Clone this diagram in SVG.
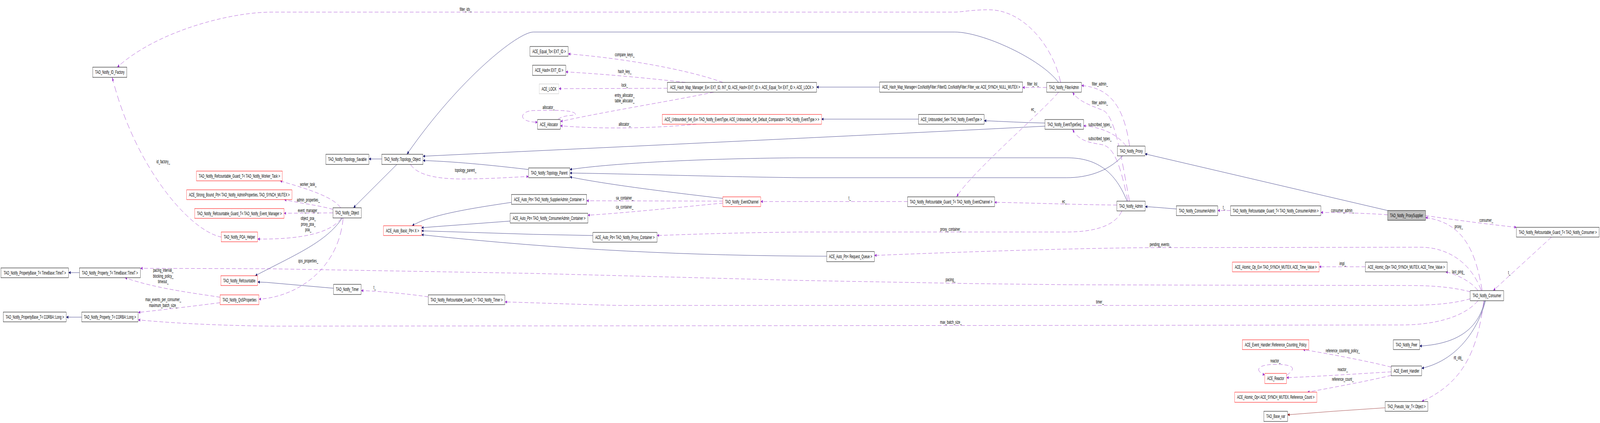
<svg xmlns="http://www.w3.org/2000/svg" width="7656" height="1083" viewBox="0 0 7656 1083" preserveAspectRatio="none">
<style>
svg{width:100vw;height:100vh;display:block}
text{font-family:"Liberation Sans",Arial,sans-serif;font-size:13.33px;fill:#000}
.node rect{fill:#fff;stroke:#000;stroke-width:1}
.node.r rect{stroke:#ff0000}
.node.g rect{stroke:#bfbfbf}
.node.sel rect{fill:#bfbfbf}
.node text{text-anchor:middle}
.lbl{text-anchor:middle}
.edges path{fill:none;stroke-width:1}
.inh{stroke:#191970;marker-end:url(#an)}
.use{stroke:#9a32cd;stroke-dasharray:18,10;marker-end:url(#ap)}
.prot{stroke:#8b1a1a;marker-end:url(#am)}
</style>
<defs>
<marker id="an" markerWidth="10" markerHeight="8" refX="10" refY="4" orient="auto" markerUnits="userSpaceOnUse"><path d="M0,0 L10,4 L0,8 z" fill="#191970"/></marker>
<marker id="ap" markerWidth="10" markerHeight="8" refX="10" refY="4" orient="auto" markerUnits="userSpaceOnUse"><path d="M0,0 L10,4 L0,8 z" fill="#9a32cd"/></marker>
<marker id="am" markerWidth="10" markerHeight="8" refX="10" refY="4" orient="auto" markerUnits="userSpaceOnUse"><path d="M0,0 L10,4 L0,8 z" fill="#8b1a1a"/></marker>
</defs>
<rect x="0" y="0" width="7656" height="1083" fill="#fff"/>
<g id="connectors" class="edges">
<path class="inh" d="M380,698 L328,698"/>
<path class="inh" d="M391,812 L317,812"/>
<path class="inh" d="M1827,407 L1765,407"/>
<path class="inh" d="M1899,421 L1691,532"/>
<path class="inh" d="M1638,558 C1560,620 1420,650 1221,706"/>
<path class="inh" d="M1596,738 L1276,723 L1233,722"/>
<path class="inh" d="M2529,434 C2400,426 2200,414 2024,411"/>
<path class="inh" d="M5000,323 C4200,345 3000,375 2024,400"/>
<path class="inh" d="M5000,315 C4900,314 4800,311 4709,309"/>
<path class="inh" d="M4395,305 L3931,305"/>
<path class="inh" d="M4209,223 L3907,223"/>
<path class="inh" d="M5065,211 C4980,150 4700,82 4569,82 L2552,82 C2480,82 2200,200 1947,395"/>
<path class="inh" d="M3459,508 C3200,492 2900,472 2727,453"/>
<path class="inh" d="M5393,515 C5330,430 5230,404 5104,404 L3828,404 C3300,406 2900,420 2727,434"/>
<path class="inh" d="M5372,399 C5300,440 5200,455 5104,455 L3828,455 C3400,452 3000,445 2727,443"/>
<path class="inh" d="M6640,539 L5479,394"/>
<path class="inh" d="M5629,535 C5580,533 5520,530 5480,529"/>
<path class="inh" d="M7104,770 C7080,830 7000,880 6793,886"/>
<path class="inh" d="M7108,770 C7080,830 6990,920 6803,943"/>
<path class="prot" d="M6628,1044 L6380,1053 L6161,1062"/>
<path class="inh" d="M2448,518 C2300,530 2060,548 1972,578"/>
<path class="inh" d="M2441,566 L2017,583"/>
<path class="inh" d="M2837,603 L2552,600 L2017,591"/>
<path class="inh" d="M3956,656 C3300,655 2700,640 2017,601"/>
<path class="use" d="M1060,607 C900,590 640,420 537,198"/>
<path class="use" d="M5075,211 C5040,120 4900,25 4731,25 C4650,25 4600,31 4569,31 L1300,31 C1100,31 750,80 561,172"/>
<path class="use" d="M1630,532 C1590,500 1430,478 1340,463"/>
<path class="use" d="M1593,536 C1520,525 1430,520 1360,511"/>
<path class="use" d="M1593,545 L1359,546"/>
<path class="use" d="M1634,558 C1580,600 1420,613 1233,612"/>
<path class="use" d="M1642,558 C1620,690 1420,760 1239,766"/>
<path class="use" d="M2049,760 C1950,752 1800,745 1728,744"/>
<path class="use" d="M1964,421 C2000,450 2100,460 2250,458 C2380,457 2470,453 2529,452"/>
<path class="use" d="M3459,211 C3300,180 3000,150 2719,138"/>
<path class="use" d="M3280,211 C3100,200 2900,190 2707,184"/>
<path class="use" d="M3193,226 L2674,227"/>
<path class="use" d="M3415,236 C3200,260 2900,285 2682,311"/>
<path class="use" d="M3333,318 C3100,330 2850,330 2681,322"/>
<path class="use" d="M2670,306 C2700,290 2780,300 2745,288 C2710,280 2600,283 2552,283 C2490,284 2470,312 2572,313"/>
<path class="use" d="M5008,224 L4893,224"/>
<path class="use" d="M5065,236 C5000,280 4650,440 4577,504"/>
<path class="use" d="M4343,516 L3640,516"/>
<path class="use" d="M5344,525 C5150,524 4900,519 4759,518"/>
<path class="use" d="M3459,515 L2807,514"/>
<path class="use" d="M3459,520 C3300,528 3000,545 2813,551"/>
<path class="use" d="M5405,374 C5380,280 5320,225 5175,219"/>
<path class="use" d="M5405,515 C5370,420 5340,300 5280,283 C5220,270 5160,260 5132,236"/>
<path class="use" d="M5389,374 C5340,340 5260,325 5185,322"/>
<path class="use" d="M5397,515 C5360,420 5330,375 5270,370 C5210,365 5160,360 5132,331"/>
<path class="use" d="M5368,540 C5340,575 5250,594 5104,594 L3828,594 C3500,596 3300,600 3144,603"/>
<path class="use" d="M5888,539 L5827,539"/>
<path class="use" d="M6640,550 C6550,546 6400,544 6320,544"/>
<path class="use" d="M6821,552 C6950,562 7100,573 7256,582"/>
<path class="use" d="M7092,744 C7060,640 7000,570 6821,557"/>
<path class="use" d="M7424,607 L7145,744"/>
<path class="use" d="M7088,744 C7030,660 6900,633 6800,633 L5500,634 C5100,636 4600,645 4184,654"/>
<path class="use" d="M6533,683 L6312,683"/>
<path class="use" d="M7072,744 C7040,720 6960,700 6917,696"/>
<path class="use" d="M7035,747 C6950,735 6850,731 6746,731 L5706,730 L5104,729 L4642,726 L3828,718 L2552,700 L1276,688 L672,687"/>
<path class="use" d="M7035,765 C6950,778 6850,782 6706,782 L2959,782 C2800,780 2550,775 2416,773"/>
<path class="use" d="M7072,770 C7000,815 6850,832 6706,832 L5389,833 L1300,835 C1000,833 800,826 661,819"/>
<path class="use" d="M7100,770 C7070,900 7000,980 6803,1028"/>
<path class="use" d="M6657,940 C6550,925 6350,905 6235,895"/>
<path class="use" d="M6657,952 C6500,957 6300,964 6156,967"/>
<path class="use" d="M6657,961 C6550,975 6380,992 6256,1004"/>
<path class="use" d="M6156,961 C6200,945 6200,933 6103,933 C6010,933 6005,950 6052,960"/>
<path class="use" d="M1053,761 C950,752 750,740 598,711"/>
<path class="use" d="M1053,775 C950,782 800,792 661,800"/>
</g>
<g id="edge-labels">
<text class="lbl" x="781" y="418">id_factory_</text>
<text class="lbl" x="2228" y="28">filter_ids_</text>
<text class="lbl" x="1475" y="476">worker_task_</text>
<text class="lbl" x="1475" y="516">admin_properties_</text>
<text class="lbl" x="1475" y="543">event_manager_</text>
<text class="lbl" x="1475" y="563.5">object_poa_</text>
<text class="lbl" x="1475" y="578.5">proxy_poa_</text>
<text class="lbl" x="1475" y="592.5">poa_</text>
<text class="lbl" x="1475" y="672">qos_properties_</text>
<text class="lbl" x="1793" y="740">t_</text>
<text class="lbl" x="2228" y="440">topology_parent_</text>
<text class="lbl" x="2989" y="144">compare_keys_</text>
<text class="lbl" x="2989" y="187">hash_key_</text>
<text class="lbl" x="2989" y="222">lock_</text>
<text class="lbl" x="2989" y="248">entry_allocator_</text>
<text class="lbl" x="2989" y="262.5">table_allocator_</text>
<text class="lbl" x="2625" y="279">allocator_</text>
<text class="lbl" x="2989" y="322">allocator_</text>
<text class="lbl" x="2989" y="511">sa_container_</text>
<text class="lbl" x="2989" y="534.5">ca_container_</text>
<text class="lbl" x="4943" y="219">filter_list_</text>
<text class="lbl" x="4945" y="284">ec_</text>
<text class="lbl" x="4066" y="511">t_</text>
<text class="lbl" x="5093" y="520">ec_</text>
<text class="lbl" x="4550" y="591">proxy_container_</text>
<text class="lbl" x="4548" y="720">pacing_</text>
<text class="lbl" x="4550" y="829.5">max_batch_size_</text>
<text class="lbl" x="5263" y="219">filter_admin_</text>
<text class="lbl" x="5263" y="267.5">filter_admin_</text>
<text class="lbl" x="5263" y="323">subscribed_types_</text>
<text class="lbl" x="5263" y="359">subscribed_types_</text>
<text class="lbl" x="5857" y="535.5">t_</text>
<text class="lbl" x="6424" y="543">consumer_admin_</text>
<text class="lbl" x="5552" y="630">pending_events_</text>
<text class="lbl" x="5263" y="777">timer_</text>
<text class="lbl" x="6425" y="679">impl_</text>
<text class="lbl" x="6978" y="700.5">last_ping_</text>
<text class="lbl" x="7112" y="568">consumer_</text>
<text class="lbl" x="6980" y="584">proxy_</text>
<text class="lbl" x="7222" y="702">t_</text>
<text class="lbl" x="6103" y="928">reactor_</text>
<text class="lbl" x="6425" y="902">reference_counting_policy_</text>
<text class="lbl" x="6425" y="950">reactor_</text>
<text class="lbl" x="6425" y="975">reference_count_</text>
<text class="lbl" x="6978" y="920">rtt_obj_</text>
<text class="lbl" x="781" y="696">pacing_interval_</text>
<text class="lbl" x="781" y="711">blocking_policy_</text>
<text class="lbl" x="781" y="725.5">timeout_</text>
<text class="lbl" x="781" y="771">max_events_per_consumer_</text>
<text class="lbl" x="781" y="786">maximum_batch_size_</text>
</g>
<g id="n_id_factory" class="node"><rect x="444" y="172" width="163" height="26"/><text x="525.5" y="189.5">TAO_Notify_ID_Factory</text></g>
<g id="n_guard_worker_task" class="node r"><rect x="940" y="438" width="411" height="25"/><text x="1145.5" y="455">TAO_Notify_Refcountable_Guard_T&lt; TAO_Notify_Worker_Task &gt;</text></g>
<g id="n_strong_bound_ptr" class="node r"><rect x="893" y="486" width="504" height="25"/><text x="1145" y="503">ACE_Strong_Bound_Ptr&lt; TAO_Notify_AdminProperties, TAO_SYNCH_MUTEX &gt;</text></g>
<g id="n_guard_event_manager" class="node r"><rect x="932" y="534" width="427" height="25"/><text x="1145.5" y="551">TAO_Notify_Refcountable_Guard_T&lt; TAO_Notify_Event_Manager &gt;</text></g>
<g id="n_poa_helper" class="node r"><rect x="1059" y="594" width="174" height="25"/><text x="1146" y="611">TAO_Notify_POA_Helper</text></g>
<g id="n_refcountable" class="node r"><rect x="1057" y="706" width="176" height="25"/><text x="1145" y="723">TAO_Notify_Refcountable</text></g>
<g id="n_qos_properties" class="node r"><rect x="1053" y="755" width="186" height="25"/><text x="1146" y="772">TAO_Notify_QoSProperties</text></g>
<g id="n_propertybase_timet" class="node"><rect x="5" y="686" width="323" height="25"/><text x="166.5" y="703">TAO_Notify_PropertyBase_T&lt; TimeBase::TimeT &gt;</text></g>
<g id="n_property_timet" class="node"><rect x="380" y="686" width="292" height="25"/><text x="526" y="703">TAO_Notify_Property_T&lt; TimeBase::TimeT &gt;</text></g>
<g id="n_propertybase_long" class="node"><rect x="16" y="799" width="301" height="25"/><text x="166.5" y="816">TAO_Notify_PropertyBase_T&lt; CORBA::Long &gt;</text></g>
<g id="n_property_long" class="node"><rect x="391" y="799" width="270" height="25"/><text x="526" y="816">TAO_Notify_Property_T&lt; CORBA::Long &gt;</text></g>
<g id="n_topology_savable" class="node"><rect x="1559" y="395" width="206" height="26"/><text x="1662" y="412.5">TAO_Notify::Topology_Savable</text></g>
<g id="n_topology_object" class="node"><rect x="1827" y="395" width="197" height="26"/><text x="1925.5" y="412.5">TAO_Notify::Topology_Object</text></g>
<g id="n_notify_object" class="node"><rect x="1593" y="532" width="136" height="26"/><text x="1661" y="549.5">TAO_Notify_Object</text></g>
<g id="n_timer" class="node"><rect x="1596" y="728" width="132" height="26"/><text x="1662" y="745.5">TAO_Notify_Timer</text></g>
<g id="n_guard_timer" class="node"><rect x="2049" y="755" width="367" height="25"/><text x="2232.5" y="772">TAO_Notify_Refcountable_Guard_T&lt; TAO_Notify_Timer &gt;</text></g>
<g id="n_auto_basic_ptr" class="node r"><rect x="1835" y="578" width="182" height="25"/><text x="1926" y="595">ACE_Auto_Basic_Ptr&lt; X &gt;</text></g>
<g id="n_auto_ptr_sa" class="node"><rect x="2448" y="498" width="359" height="25"/><text x="2627.5" y="515">ACE_Auto_Ptr&lt; TAO_Notify_SupplierAdmin_Container &gt;</text></g>
<g id="n_auto_ptr_ca" class="node"><rect x="2441" y="546" width="372" height="25"/><text x="2627" y="563">ACE_Auto_Ptr&lt; TAO_Notify_ConsumerAdmin_Container &gt;</text></g>
<g id="n_auto_ptr_pc" class="node"><rect x="2837" y="595" width="307" height="25"/><text x="2990.5" y="612">ACE_Auto_Ptr&lt; TAO_Notify_Proxy_Container &gt;</text></g>
<g id="n_auto_ptr_rq" class="node"><rect x="3956" y="644" width="228" height="26"/><text x="4070" y="661.5">ACE_Auto_Ptr&lt; Request_Queue &gt;</text></g>
<g id="n_equal_to" class="node"><rect x="2536" y="119" width="183" height="25"/><text x="2627.5" y="136">ACE_Equal_To&lt; EXT_ID &gt;</text></g>
<g id="n_hash" class="node"><rect x="2548" y="167" width="159" height="26"/><text x="2627.5" y="184.5">ACE_Hash&lt; EXT_ID &gt;</text></g>
<g id="n_ace_lock" class="node g"><rect x="2580" y="215" width="94" height="25"/><text x="2627" y="232">ACE_LOCK</text></g>
<g id="n_allocator" class="node"><rect x="2572" y="306" width="109" height="25"/><text x="2626.5" y="323">ACE_Allocator</text></g>
<g id="n_hash_map_manager_ex" class="node"><rect x="3193" y="211" width="714" height="25"/><text x="3550" y="228">ACE_Hash_Map_Manager_Ex&lt; EXT_ID, INT_ID, ACE_Hash&lt; EXT_ID &gt;, ACE_Equal_To&lt; EXT_ID &gt;, ACE_LOCK &gt;</text></g>
<g id="n_unbounded_set_ex" class="node r"><rect x="3169" y="293" width="762" height="25"/><text x="3550" y="310">ACE_Unbounded_Set_Ex&lt; TAO_Notify_EventType, ACE_Unbounded_Set_Default_Comparator&lt; TAO_Notify_EventType &gt; &gt;</text></g>
<g id="n_hash_map_manager" class="node"><rect x="4209" y="210" width="684" height="26"/><text x="4551" y="227.5">ACE_Hash_Map_Manager&lt; CosNotifyFilter::FilterID, CosNotifyFilter::Filter_var, ACE_SYNCH_NULL_MUTEX &gt;</text></g>
<g id="n_filter_admin" class="node"><rect x="5008" y="211" width="167" height="25"/><text x="5091.5" y="228">TAO_Notify_FilterAdmin</text></g>
<g id="n_unbounded_set" class="node"><rect x="4395" y="293" width="314" height="25"/><text x="4552" y="310">ACE_Unbounded_Set&lt; TAO_Notify_EventType &gt;</text></g>
<g id="n_event_type_seq" class="node"><rect x="5000" y="306" width="185" height="25"/><text x="5092.5" y="323">TAO_Notify_EventTypeSeq</text></g>
<g id="n_topology_parent" class="node"><rect x="2529" y="430" width="198" height="25"/><text x="2628" y="447">TAO_Notify::Topology_Parent</text></g>
<g id="n_event_channel" class="node r"><rect x="3459" y="504" width="181" height="25"/><text x="3549.5" y="521">TAO_Notify_EventChannel</text></g>
<g id="n_guard_event_channel" class="node"><rect x="4343" y="504" width="416" height="25"/><text x="4551" y="521">TAO_Notify_Refcountable_Guard_T&lt; TAO_Notify_EventChannel &gt;</text></g>
<g id="n_proxy" class="node"><rect x="5347" y="374" width="132" height="25"/><text x="5413" y="391">TAO_Notify_Proxy</text></g>
<g id="n_admin" class="node"><rect x="5344" y="515" width="136" height="25"/><text x="5412" y="532">TAO_Notify_Admin</text></g>
<g id="n_consumer_admin" class="node"><rect x="5629" y="527" width="198" height="25"/><text x="5728" y="544">TAO_Notify_ConsumerAdmin</text></g>
<g id="n_guard_consumer_admin" class="node"><rect x="5888" y="527" width="432" height="25"/><text x="6104" y="544">TAO_Notify_Refcountable_Guard_T&lt; TAO_Notify_ConsumerAdmin &gt;</text></g>
<g id="n_proxy_supplier" class="node sel"><rect x="6640" y="539" width="181" height="25"/><text x="6730.5" y="556">TAO_Notify_ProxySupplier</text></g>
<g id="n_guard_consumer" class="node"><rect x="7256" y="582" width="396" height="25"/><text x="7454" y="599">TAO_Notify_Refcountable_Guard_T&lt; TAO_Notify_Consumer &gt;</text></g>
<g id="n_consumer" class="node"><rect x="7035" y="744" width="160" height="26"/><text x="7115" y="761.5">TAO_Notify_Consumer</text></g>
<g id="n_atomic_op_ex" class="node r"><rect x="5897" y="671" width="415" height="25"/><text x="6104.5" y="688">ACE_Atomic_Op_Ex&lt; TAO_SYNCH_MUTEX, ACE_Time_Value &gt;</text></g>
<g id="n_atomic_op_tv" class="node"><rect x="6533" y="671" width="392" height="25"/><text x="6729" y="688">ACE_Atomic_Op&lt; TAO_SYNCH_MUTEX, ACE_Time_Value &gt;</text></g>
<g id="n_ref_counting_policy" class="node r"><rect x="5945" y="870" width="318" height="25"/><text x="6104" y="887">ACE_Event_Handler::Reference_Counting_Policy</text></g>
<g id="n_reactor" class="node r"><rect x="6052" y="956" width="104" height="26"/><text x="6104" y="973.5">ACE_Reactor</text></g>
<g id="n_atomic_op_rc" class="node r"><rect x="5908" y="1004" width="393" height="26"/><text x="6104.5" y="1021.5">ACE_Atomic_Op&lt; ACE_SYNCH_MUTEX, Reference_Count &gt;</text></g>
<g id="n_tao_base_var" class="node"><rect x="6048" y="1053" width="113" height="26"/><text x="6104.5" y="1070.5">TAO_Base_var</text></g>
<g id="n_peer" class="node"><rect x="6667" y="870" width="126" height="25"/><text x="6730" y="887">TAO_Notify_Peer</text></g>
<g id="n_event_handler" class="node"><rect x="6657" y="937" width="146" height="25"/><text x="6730" y="954">ACE_Event_Handler</text></g>
<g id="n_pseudo_var" class="node"><rect x="6628" y="1028" width="204" height="25"/><text x="6730" y="1045">TAO_Pseudo_Var_T&lt; Object &gt;</text></g>
</svg>
